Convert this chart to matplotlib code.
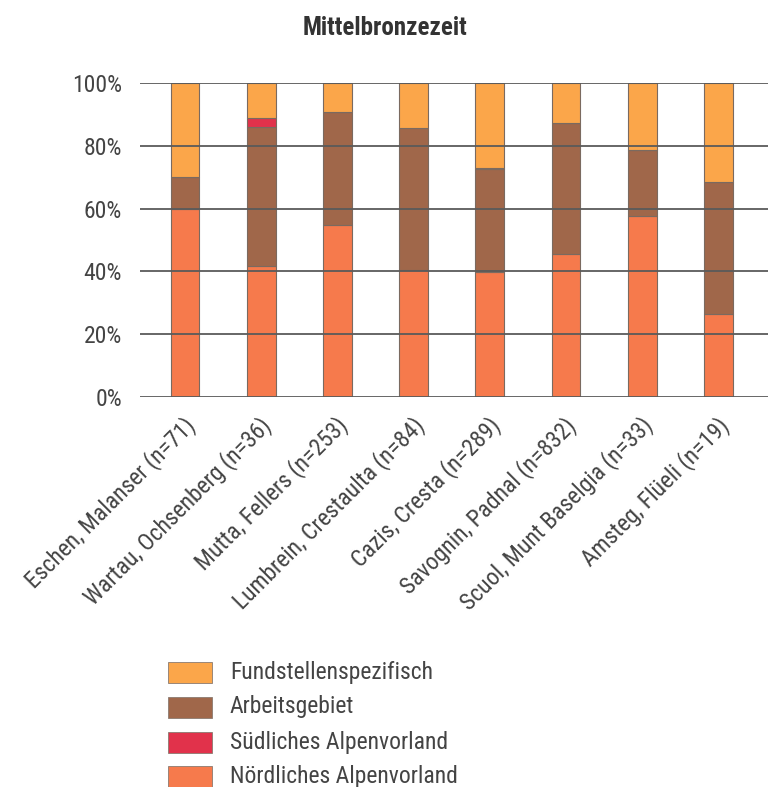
import matplotlib
matplotlib.use("Agg")
import matplotlib.pyplot as plt
from matplotlib.patches import Rectangle
from matplotlib.transforms import ScaledTranslation
import numpy as np

plt.rcParams['font.family'] = ['Roboto Condensed', 'DejaVu Sans']

sites = ["Eschen, Malanser (n=71)", "Wartau, Ochsenberg (n=36)", "Mutta, Fellers (n=253)",
         "Lumbrein, Crestaulta (n=84)", "Cazis, Cresta (n=289)", "Savognin, Padnal (n=832)",
         "Scuol, Munt Baselgia (n=33)", "Amsteg, Flüeli (n=19)"]
noerdlich = [60.0, 41.7, 54.7, 40.5, 39.8, 45.4, 57.6, 26.3]
arbeit = [10.0, 44.4, 36.0, 45.2, 32.9, 41.9, 21.2, 42.1]
suedlich = [0.0, 2.8, 0.0, 0.0, 0.35, 0.0, 0.0, 0.0]
fund = [30.0, 11.1, 9.3, 14.3, 27.0, 12.7, 21.2, 31.6]

series_names = ["Fundstellenspezifisch", "Arbeitsgebiet", "Südliches Alpenvorland", "Nördliches Alpenvorland"]
colors = {"Fundstellenspezifisch": "#FBA64A", "Arbeitsgebiet": "#A0674A",
          "Südliches Alpenvorland": "#E1324B", "Nördliches Alpenvorland": "#F67A4C"}

fig = plt.figure(figsize=(7.68, 7.87), dpi=100)
ax = fig.add_axes([140/768, 1-397/787, 1-140/768, (397-83)/787])

x = np.arange(len(sites))
w = 0.377
bottom = np.zeros(len(sites))
for name, vals in [("Nördliches Alpenvorland", noerdlich), ("Arbeitsgebiet", arbeit),
                   ("Südliches Alpenvorland", suedlich), ("Fundstellenspezifisch", fund)]:
    v = np.array(vals)
    ax.bar(x, v, w, bottom=bottom, color=colors[name], edgecolor="#7a6a60", linewidth=0.8, zorder=2)
    bottom += v

ax.set_ylim(0, 100)
ax.set_xlim(-0.59, 7.65)
yt = [0, 20, 40, 60, 80, 100]
ax.set_yticks(yt)
ax.set_yticklabels([f"{t}%" for t in yt], fontsize=17, color="#444444")
for t in yt:
    ax.axhline(t, color="#5a5a5a", linewidth=1.3, zorder=3)
ax.tick_params(axis='y', length=0, pad=13)
ax.tick_params(axis='x', length=0, pad=0)
ax.set_xticks(x)
ax.set_xticklabels(sites, rotation=45, ha='right', va='top', rotation_mode='anchor',
                   fontsize=17, color="#444444")
off = ScaledTranslation(-2/100, -16/100, fig.dpi_scale_trans)
for lab in ax.get_xticklabels():
    lab.set_transform(lab.get_transform() + off)
for s in ax.spines.values():
    s.set_visible(False)

fig.text(385/768, 1-28/787, "Mittelbronzezeit", ha='center', va='center', fontsize=18,
         fontweight='bold', color="#333333")

rows_y = [672, 707, 742, 776]
for name, yc in zip(series_names, rows_y):
    fig.patches.append(Rectangle((168/768, 1-(yc+11)/787), 44/768, 21/787, transform=fig.transFigure,
                                 facecolor=colors[name], edgecolor="#8a7a70", linewidth=0.6))
    fig.text(230/768, 1-yc/787, name, ha='left', va='center', fontsize=17, color="#444444")

fig.savefig("out.png", dpi=100)
